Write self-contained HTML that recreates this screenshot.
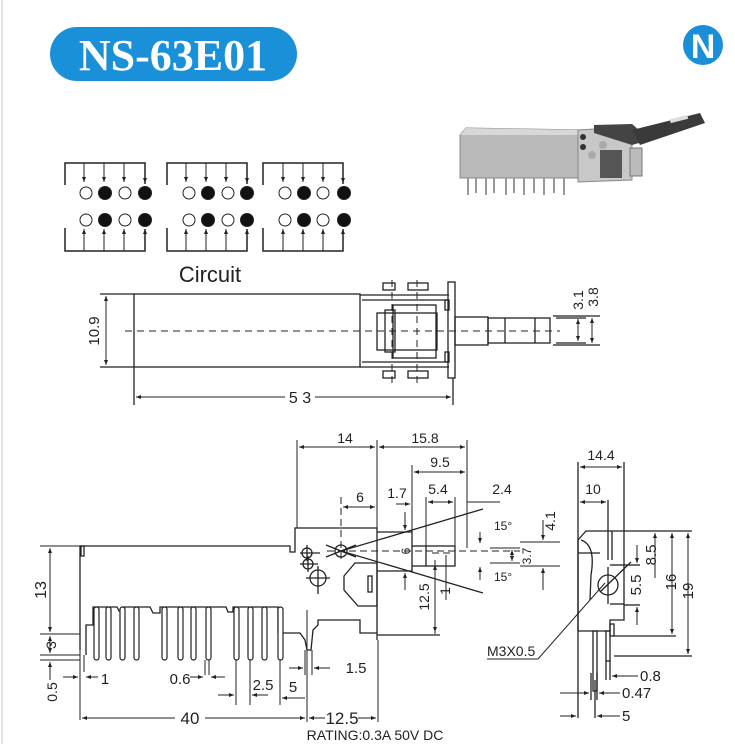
<!DOCTYPE html>
<html><head><meta charset="utf-8"><style>
html,body{margin:0;padding:0;background:#fff;}
svg{display:block;}
text{font-family:"Liberation Sans",sans-serif;fill:#222;}
</style></head><body>
<svg width="735" height="744" viewBox="0 0 735 744" xmlns="http://www.w3.org/2000/svg">
<defs>
<marker id="a" viewBox="0 0 10 10" refX="10" refY="5" markerWidth="7" markerHeight="5" orient="auto-start-reverse"><path d="M0,1 L10,5 L0,9 z" fill="#222"/></marker>
</defs>
<line x1="2" y1="0" x2="2" y2="744" stroke="#e4e4e4" stroke-width="2"/>
<!-- title -->
<rect x="50" y="27" width="247" height="54" rx="27" fill="#1a90d8"/>
<text x="173" y="70" text-anchor="middle" style="font-family:'Liberation Serif',serif;font-weight:bold;font-size:44px;fill:#fff">NS-63E01</text>
<!-- N logo -->
<circle cx="703" cy="45" r="20" fill="#1a8fd8"/>
<text x="703" y="58" text-anchor="middle" style="font-family:'Liberation Sans',sans-serif;font-weight:bold;font-size:34px;fill:#fff">N</text>

<!-- photo -->
<g>
<path d="M460,135 L466,128 L585,130 L585,178 L460,178 Z" fill="#b9b9b9" stroke="#888" stroke-width="1"/>
<path d="M466,128 L585,130 L585,135 L460,135 Z" fill="#d8d8d8"/>
<path d="M578,130 L628,127 L632,132 L632,180 L578,182 Z" fill="#c8c8c8" stroke="#888"/>
<rect x="600" y="150" width="22" height="28" fill="#555"/>
<circle cx="583" cy="137" r="3" fill="#333"/><circle cx="583" cy="147" r="3" fill="#333"/>
<circle cx="603" cy="145" r="4" fill="#aaa"/><circle cx="592" cy="155" r="4" fill="#aaa"/>
<path d="M594,125 L632,124 L650,140 L632,145 L594,133 Z" fill="#444"/>
<path d="M632,130 L700,113 L705,123 L640,145 Z" fill="#3a3a3a"/>
<rect x="670" y="117" width="18" height="4" fill="#ddd" transform="rotate(-14 679 119)"/>
<rect x="630" y="148" width="12" height="28" fill="#bbb" stroke="#777"/>
<g stroke="#999" stroke-width="2">
<line x1="468" y1="178" x2="468" y2="195"/><line x1="476" y1="178" x2="476" y2="193"/><line x1="486" y1="178" x2="486" y2="195"/><line x1="494" y1="178" x2="494" y2="193"/><line x1="506" y1="178" x2="506" y2="195"/><line x1="514" y1="178" x2="514" y2="193"/><line x1="524" y1="178" x2="524" y2="195"/><line x1="534" y1="178" x2="534" y2="193"/><line x1="544" y1="178" x2="544" y2="195"/><line x1="554" y1="178" x2="554" y2="193"/><line x1="564" y1="178" x2="564" y2="195"/>
</g>
</g>

<!-- circuit -->
<g stroke="#222" stroke-width="1.5" fill="none">
<g id="c1">
<polyline points="65,185 65,163 145,163 145,184"/>
<polyline points="65,228 65,251 145,251 145,229"/>
</g>
<polyline points="167,185 167,163 247,163 247,184"/>
<polyline points="167,228 167,251 247,251 247,229"/>
<polyline points="263,185 263,163 343,163 343,184"/>
<polyline points="263,228 263,251 343,251 343,229"/>
</g>
<g stroke="#222" stroke-width="1" marker-end="url(#a)">
<line x1="84" y1="163" x2="84" y2="182"/><line x1="104" y1="163" x2="104" y2="182"/><line x1="124" y1="163" x2="124" y2="182"/><line x1="145" y1="163" x2="145" y2="183"/>
<line x1="186" y1="163" x2="186" y2="182"/><line x1="206" y1="163" x2="206" y2="182"/><line x1="226" y1="163" x2="226" y2="182"/><line x1="247" y1="163" x2="247" y2="183"/>
<line x1="283" y1="163" x2="283" y2="182"/><line x1="303" y1="163" x2="303" y2="182"/><line x1="323" y1="163" x2="323" y2="182"/><line x1="343" y1="163" x2="343" y2="183"/>
<line x1="84" y1="251" x2="84" y2="229"/><line x1="104" y1="251" x2="104" y2="229"/><line x1="124" y1="251" x2="124" y2="229"/><line x1="145" y1="251" x2="145" y2="229"/>
<line x1="186" y1="251" x2="186" y2="229"/><line x1="206" y1="251" x2="206" y2="229"/><line x1="226" y1="251" x2="226" y2="229"/><line x1="247" y1="251" x2="247" y2="229"/>
<line x1="283" y1="251" x2="283" y2="229"/><line x1="303" y1="251" x2="303" y2="229"/><line x1="323" y1="251" x2="323" y2="229"/><line x1="343" y1="251" x2="343" y2="229"/>
</g>
<g stroke="#222" stroke-width="1">
<circle cx="86" cy="193" r="6" fill="#fff"/><circle cx="105" cy="193" r="6.5" fill="#111"/><circle cx="125" cy="193" r="6" fill="#fff"/><circle cx="145" cy="193" r="6.5" fill="#111"/>
<circle cx="86" cy="220" r="6" fill="#fff"/><circle cx="105" cy="220" r="6.5" fill="#111"/><circle cx="125" cy="220" r="6" fill="#fff"/><circle cx="145" cy="220" r="6.5" fill="#111"/>
<circle cx="189" cy="193" r="6" fill="#fff"/><circle cx="208" cy="193" r="6.5" fill="#111"/><circle cx="228" cy="193" r="6" fill="#fff"/><circle cx="247" cy="193" r="6.5" fill="#111"/>
<circle cx="189" cy="220" r="6" fill="#fff"/><circle cx="208" cy="220" r="6.5" fill="#111"/><circle cx="228" cy="220" r="6" fill="#fff"/><circle cx="247" cy="220" r="6.5" fill="#111"/>
<circle cx="285" cy="193" r="6" fill="#fff"/><circle cx="304" cy="193" r="6.5" fill="#111"/><circle cx="323" cy="193" r="6" fill="#fff"/><circle cx="344" cy="193" r="6.5" fill="#111"/>
<circle cx="285" cy="220" r="6" fill="#fff"/><circle cx="304" cy="220" r="6.5" fill="#111"/><circle cx="323" cy="220" r="6" fill="#fff"/><circle cx="344" cy="220" r="6.5" fill="#111"/>
</g>
<text x="210" y="282" text-anchor="middle" font-size="22">Circuit</text>

<!-- top view -->
<g stroke="#222" stroke-width="1.3" fill="none">
<rect x="134" y="294" width="226" height="73"/>
<line x1="100" y1="294" x2="134" y2="294"/><line x1="100" y1="367" x2="134" y2="367"/>
<line x1="360" y1="295" x2="449" y2="295"/><line x1="360" y1="367" x2="449" y2="367"/>
<line x1="362" y1="300" x2="449" y2="300"/><line x1="362" y1="362" x2="449" y2="362"/>
<rect x="377" y="313" width="60" height="37"/>
<rect x="393" y="305" width="43" height="53"/>
<rect x="385" y="310" width="10" height="42"/>
<rect x="448" y="282" width="7" height="96"/>
<rect x="383" y="283" width="12" height="7"/><rect x="408" y="283" width="20" height="7"/>
<rect x="383" y="371" width="12" height="7"/><rect x="408" y="371" width="20" height="7"/>
<rect x="445" y="300" width="4" height="10"/><rect x="445" y="352" width="4" height="10"/>
<rect x="455" y="317" width="33" height="28"/>
<rect x="488" y="318" width="62" height="25"/>
<line x1="505" y1="318" x2="505" y2="343"/><line x1="535" y1="318" x2="535" y2="343"/>
<line x1="553" y1="316" x2="600" y2="316"/><line x1="553" y1="345" x2="600" y2="345"/>
<line x1="556" y1="318" x2="586" y2="318"/><line x1="556" y1="343" x2="586" y2="343"/>
<line x1="134" y1="367" x2="134" y2="405"/><line x1="453" y1="378" x2="453" y2="405"/>
</g>
<g stroke="#222" stroke-width="1" stroke-dasharray="7,5" fill="none">
<line x1="125" y1="331" x2="560" y2="331"/>
<line x1="392" y1="280" x2="392" y2="385"/><line x1="417" y1="280" x2="417" y2="385"/>
</g>
<g stroke="#222" stroke-width="1">
<line x1="106" y1="296" x2="106" y2="365" marker-start="url(#a)" marker-end="url(#a)"/>
<line x1="578" y1="319" x2="578" y2="341" marker-start="url(#a)" marker-end="url(#a)"/>
<line x1="592" y1="318" x2="592" y2="343" marker-start="url(#a)" marker-end="url(#a)"/>
<line x1="136" y1="397" x2="285" y2="397" marker-start="url(#a)"/>
<line x1="315" y1="397" x2="451" y2="397" marker-end="url(#a)"/>
</g>
<text transform="translate(99,331) rotate(-90)" text-anchor="middle" font-size="15">10.9</text>
<text transform="translate(583,300) rotate(-90)" text-anchor="middle" font-size="14">3.1</text>
<text transform="translate(598,297) rotate(-90)" text-anchor="middle" font-size="14">3.8</text>
<text x="300" y="403" text-anchor="middle" font-size="16">5 3</text>

<!-- side view -->
<g stroke="#222" stroke-width="1.3" fill="none">
<polyline points="80,650 80,546 290,546 290,552 295,552 295,528 377,528 377,640"/>
<rect x="81" y="546" width="3" height="10"/>
<polyline points="86,655 86,625 93,625 93,607 117,607 119,611 123,611 123,607 150,607 153,613 160,613 160,607 226,607 228,612 233,612 233,607 278,607 278,633 288,633 300,633 305,640 307,650 311,650 313,630 318,625 318,620 360,620 360,633 377,633"/>
<line x1="377" y1="635" x2="440" y2="635"/>
<polyline points="377,532 412,532 412,571 377,571"/>
<rect x="426" y="546" width="29" height="20"/>
<line x1="412" y1="546" x2="426" y2="546"/><line x1="412" y1="566" x2="426" y2="566"/>
<path d="M344,576 L355,563 L377,563 L377,606 L358,606 L344,590 Z"/>
<rect x="368" y="576" width="4" height="16"/>
<circle cx="307" cy="553" r="5"/><circle cx="308" cy="564" r="5"/><circle cx="318" cy="578" r="8"/>
<circle cx="341" cy="551" r="6"/>
<line x1="300" y1="553" x2="320" y2="553"/><line x1="307" y1="545" x2="307" y2="561"/>
<line x1="300" y1="564" x2="318" y2="564"/><line x1="308" y1="556" x2="308" y2="572"/>
<line x1="306" y1="578" x2="330" y2="578"/><line x1="318" y1="566" x2="318" y2="594"/>
<line x1="341" y1="551" x2="483" y2="509"/><line x1="341" y1="551" x2="483" y2="593"/>
<line x1="326" y1="545" x2="356" y2="557"/><line x1="326" y1="557" x2="356" y2="545"/>
</g>
<g stroke="#222" stroke-width="1.2" fill="#fff">
<rect x="94" y="607" width="5" height="53" rx="2.5"/><rect x="106" y="607" width="5" height="53" rx="2.5"/><rect x="120" y="607" width="5" height="53" rx="2.5"/><rect x="134" y="607" width="5" height="53" rx="2.5"/>
<rect x="162" y="607" width="5" height="53" rx="2.5"/><rect x="178" y="607" width="5" height="53" rx="2.5"/><rect x="191" y="607" width="5" height="53" rx="2.5"/><rect x="206" y="607" width="5" height="53" rx="2.5"/>
<rect x="234" y="607" width="5" height="53" rx="2.5"/><rect x="248" y="607" width="5" height="53" rx="2.5"/><rect x="262" y="607" width="5" height="53" rx="2.5"/><rect x="278" y="607" width="5" height="53" rx="2.5"/>
</g>
<g stroke="#222" stroke-width="1" stroke-dasharray="7,4" fill="none">
<line x1="327" y1="551" x2="520" y2="551"/>
<line x1="432" y1="553" x2="450" y2="553"/>
<line x1="341" y1="497" x2="341" y2="563"/>
</g>
<g stroke="#222" stroke-width="1" fill="none">
<line x1="297" y1="440" x2="297" y2="528"/><line x1="377" y1="440" x2="377" y2="528"/>
<line x1="467" y1="440" x2="467" y2="548"/><line x1="412" y1="465" x2="412" y2="532"/>
<line x1="426" y1="497" x2="426" y2="546"/><line x1="455" y1="497" x2="455" y2="546"/>
<line x1="435" y1="560" x2="435" y2="634"/><line x1="446" y1="555" x2="446" y2="600"/>
<line x1="40" y1="546" x2="80" y2="546"/><line x1="40" y1="634" x2="80" y2="634"/>
<line x1="40" y1="655" x2="80" y2="655"/><line x1="40" y1="660" x2="80" y2="660"/>
<line x1="80" y1="650" x2="80" y2="720"/><line x1="307" y1="610" x2="307" y2="722"/>
<line x1="378" y1="640" x2="378" y2="722"/><line x1="84" y1="655" x2="84" y2="672"/>
<line x1="205" y1="660" x2="205" y2="675"/><line x1="209" y1="660" x2="209" y2="675"/>
<line x1="236" y1="660" x2="236" y2="705"/><line x1="250" y1="660" x2="250" y2="705"/>
<line x1="280" y1="660" x2="280" y2="705"/><line x1="305" y1="650" x2="305" y2="675"/><line x1="312" y1="650" x2="312" y2="675"/>
</g>
<g stroke="#222" stroke-width="1">
<line x1="299" y1="447" x2="375" y2="447" marker-start="url(#a)" marker-end="url(#a)"/>
<line x1="379" y1="447" x2="465" y2="447" marker-start="url(#a)" marker-end="url(#a)"/>
<line x1="414" y1="472" x2="465" y2="472" marker-start="url(#a)" marker-end="url(#a)"/>
<line x1="343" y1="507" x2="375" y2="507" marker-start="url(#a)" marker-end="url(#a)"/>
<line x1="396" y1="504" x2="410" y2="504" marker-end="url(#a)"/>
<line x1="428" y1="502" x2="453" y2="502" marker-start="url(#a)" marker-end="url(#a)"/>
<line x1="467" y1="502" x2="500" y2="502"/>
<line x1="405" y1="512" x2="405" y2="530" marker-end="url(#a)"/>
<line x1="405" y1="590" x2="405" y2="573" marker-end="url(#a)"/>
<line x1="435" y1="565" x2="435" y2="632" marker-start="url(#a)" marker-end="url(#a)"/>
<line x1="50" y1="548" x2="50" y2="632" marker-start="url(#a)" marker-end="url(#a)"/>
<line x1="50" y1="636" x2="50" y2="653" marker-start="url(#a)" marker-end="url(#a)"/>
<line x1="50" y1="680" x2="50" y2="662" marker-end="url(#a)"/>
<line x1="82" y1="718" x2="175" y2="718" marker-start="url(#a)"/>
<line x1="205" y1="718" x2="305" y2="718" marker-end="url(#a)"/>
<line x1="309" y1="718" x2="325" y2="718" marker-start="url(#a)"/>
<line x1="358" y1="718" x2="376" y2="718" marker-end="url(#a)"/>
<line x1="63" y1="677" x2="78" y2="677" marker-end="url(#a)"/>
<line x1="98" y1="677" x2="86" y2="677" marker-end="url(#a)"/>
<line x1="190" y1="677" x2="203" y2="677" marker-end="url(#a)"/>
<line x1="225" y1="677" x2="211" y2="677" marker-end="url(#a)"/>
<line x1="218" y1="695" x2="234" y2="695" marker-end="url(#a)"/>
<line x1="252" y1="695" x2="268" y2="695" marker-start="url(#a)"/>
<line x1="282" y1="698" x2="305" y2="698" marker-start="url(#a)"/>
<line x1="289" y1="668" x2="303" y2="668" marker-end="url(#a)"/>
<line x1="330" y1="668" x2="314" y2="668" marker-end="url(#a)"/>
<line x1="480" y1="532" x2="480" y2="543" marker-end="url(#a)"/>
<line x1="480" y1="580" x2="480" y2="567" marker-end="url(#a)"/>
<line x1="490" y1="548" x2="520" y2="548"/><line x1="490" y1="563" x2="520" y2="563"/>
<line x1="512" y1="550" x2="512" y2="561" marker-start="url(#a)" marker-end="url(#a)"/>
<line x1="520" y1="542" x2="560" y2="542"/><line x1="520" y1="566" x2="560" y2="566"/>
<line x1="543" y1="520" x2="543" y2="540" marker-end="url(#a)"/>
<line x1="543" y1="590" x2="543" y2="568" marker-end="url(#a)"/>
</g>
<g font-size="14">
<text x="345" y="443" text-anchor="middle">14</text>
<text x="425" y="443" text-anchor="middle">15.8</text>
<text x="440" y="467" text-anchor="middle">9.5</text>
<text x="360" y="502" text-anchor="middle">6</text>
<text x="397" y="498" text-anchor="middle">1.7</text>
<text x="438" y="494" text-anchor="middle">5.4</text>
<text x="502" y="494" text-anchor="middle">2.4</text>
<text x="494" y="530" font-size="12">15°</text>
<text x="494" y="581" font-size="12">15°</text>
<text transform="translate(555,521) rotate(-90)" text-anchor="middle">4.1</text>
<text transform="translate(531,556) rotate(-90)" text-anchor="middle" font-size="12">3.7</text>
<text transform="translate(410,551) rotate(-90)" text-anchor="middle" font-size="12">6</text>
<text transform="translate(429,597) rotate(-90)" text-anchor="middle">12.5</text>
<text transform="translate(450,591) rotate(-90)" text-anchor="middle">1</text>
<text transform="translate(46,590) rotate(-90)" text-anchor="middle" font-size="16">13</text>
<text transform="translate(56,645) rotate(-90)" text-anchor="middle">3</text>
<text transform="translate(57,692) rotate(-90)" text-anchor="middle">0.5</text>
<text x="105" y="684" text-anchor="middle" font-size="15">1</text>
<text x="180" y="684" text-anchor="middle" font-size="15">0.6</text>
<text x="263" y="690" text-anchor="middle" font-size="15">2.5</text>
<text x="293" y="692" text-anchor="middle" font-size="15">5</text>
<text x="356" y="673" text-anchor="middle" font-size="15">1.5</text>
<text x="190" y="724" text-anchor="middle" font-size="17">40</text>
<text x="342" y="724" text-anchor="middle" font-size="17">12.5</text>
<text x="375" y="740" text-anchor="middle" font-size="14">RATING:0.3A 50V DC</text>
</g>

<!-- right view -->
<g stroke="#222" stroke-width="1.3" fill="none">
<polyline points="578,631 578,540 586,531 624,531 624,620 610,620 610,631 578,631"/>
<line x1="608" y1="500" x2="608" y2="560"/>
<line x1="612" y1="531" x2="612" y2="560"/>
<path d="M581,540 Q596,545 591,575 L590,600" />
<line x1="578" y1="553" x2="600" y2="553"/>
<circle cx="608" cy="585" r="10"/>
<line x1="600" y1="592" x2="631" y2="562"/>
<line x1="608" y1="567" x2="608" y2="604"/>
<rect x="593" y="631" width="4" height="60"/>
<rect x="606" y="631" width="4" height="30"/>
<rect x="610" y="624" width="4" height="12"/>
<line x1="610" y1="565" x2="624" y2="565"/><line x1="610" y1="604" x2="624" y2="604"/>
<line x1="624" y1="531" x2="692" y2="531"/>
<line x1="614" y1="636" x2="676" y2="636"/>
<line x1="614" y1="656" x2="692" y2="656"/>
<line x1="624" y1="565" x2="640" y2="565"/><line x1="624" y1="605" x2="640" y2="605"/>
<line x1="578" y1="462" x2="578" y2="718"/><line x1="624" y1="462" x2="624" y2="531"/>
<line x1="595" y1="680" x2="595" y2="718"/><line x1="606" y1="660" x2="606" y2="680"/><line x1="610" y1="660" x2="610" y2="680"/>
<line x1="591" y1="673" x2="591" y2="700"/><line x1="597" y1="673" x2="597" y2="700"/>
</g>
<g stroke="#222" stroke-width="1">
<line x1="580" y1="467" x2="622" y2="467" marker-start="url(#a)" marker-end="url(#a)"/>
<line x1="580" y1="502" x2="606" y2="502" marker-start="url(#a)" marker-end="url(#a)"/>
<line x1="655" y1="533" x2="655" y2="578" marker-start="url(#a)"/>
<line x1="672" y1="533" x2="672" y2="634" marker-start="url(#a)" marker-end="url(#a)"/>
<line x1="688" y1="533" x2="688" y2="654" marker-start="url(#a)" marker-end="url(#a)"/>
<line x1="637" y1="545" x2="637" y2="563" marker-end="url(#a)"/>
<line x1="637" y1="625" x2="637" y2="607" marker-end="url(#a)"/>
<line x1="638" y1="676" x2="612" y2="676" marker-end="url(#a)"/>
<line x1="620" y1="693" x2="599" y2="693" marker-end="url(#a)"/>
<line x1="560" y1="693" x2="589" y2="693" marker-end="url(#a)"/>
<line x1="620" y1="716" x2="597" y2="716" marker-end="url(#a)"/>
<line x1="560" y1="716" x2="576" y2="716" marker-end="url(#a)"/>
<line x1="487" y1="659" x2="538" y2="659"/>
<line x1="538" y1="659" x2="605" y2="583"/>
</g>
<g font-size="14">
<text x="601" y="460" text-anchor="middle">14.4</text>
<text x="593" y="494" text-anchor="middle">10</text>
<text transform="translate(656,555) rotate(-90)" text-anchor="middle" font-size="15">8.5</text>
<text transform="translate(676,582) rotate(-90)" text-anchor="middle" font-size="15">16</text>
<text transform="translate(693,591) rotate(-90)" text-anchor="middle" font-size="15">19</text>
<text transform="translate(641,585) rotate(-90)" text-anchor="middle" font-size="15">5.5</text>
<text x="640" y="681" font-size="15">0.8</text>
<text x="622" y="698" font-size="15">0.47</text>
<text x="622" y="721" font-size="15">5</text>
<text x="487" y="656" font-size="14">M3X0.5</text>
</g>
</svg>
</body></html>
